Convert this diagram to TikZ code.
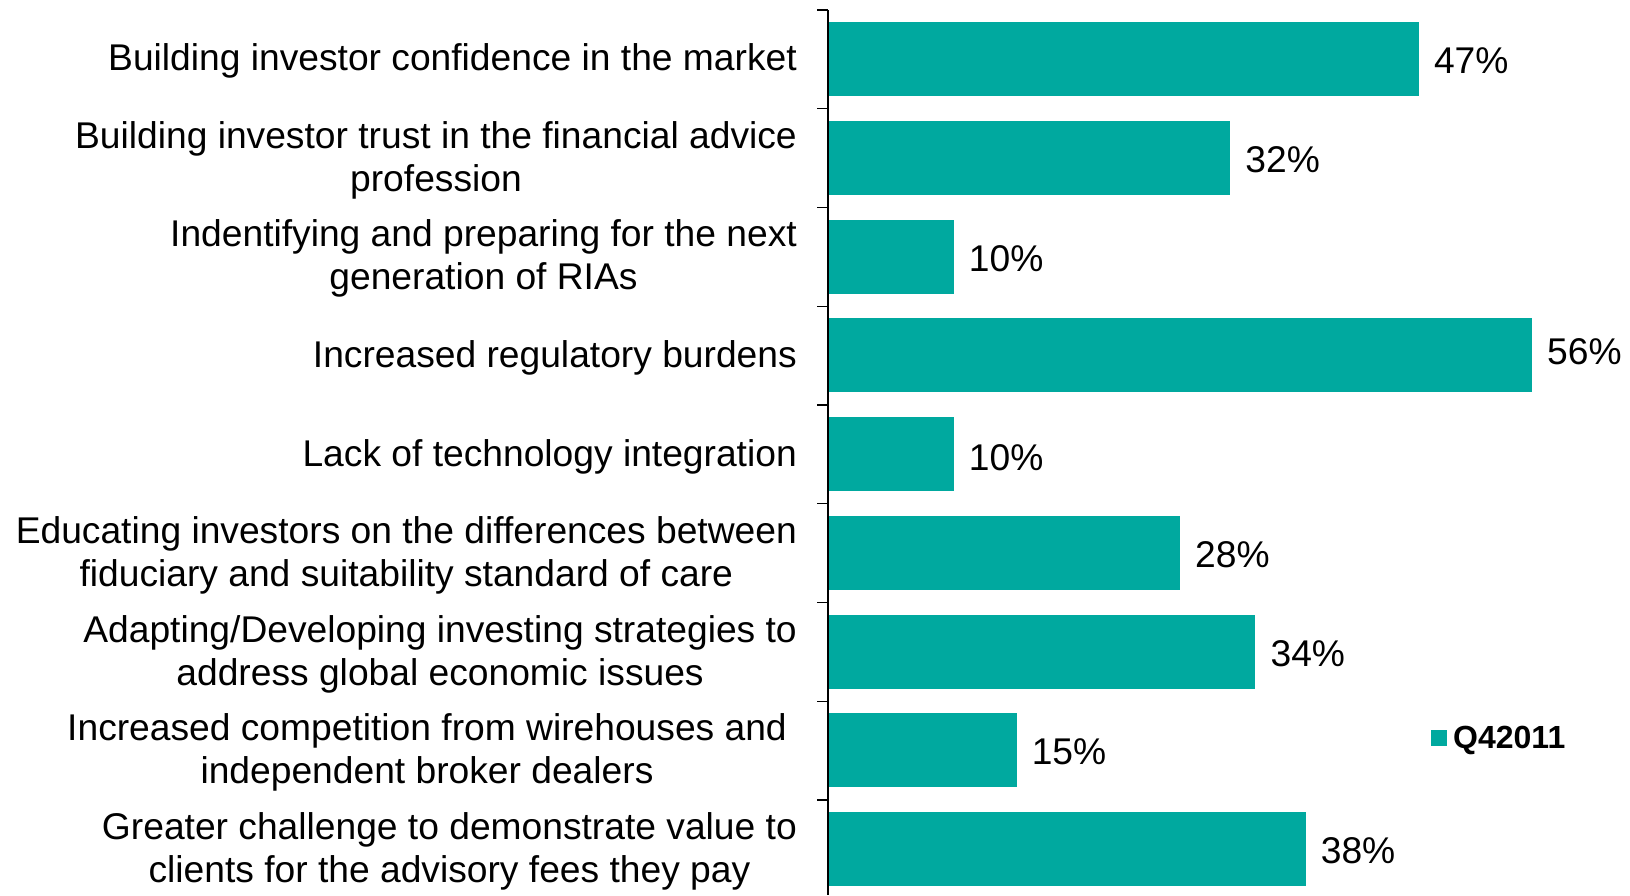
\documentclass[tikz,border=0pt]{standalone}
\usepackage{fontspec}
\setmainfont{Liberation Sans}
\definecolor{barteal}{RGB}{0,169,159}
\tikzset{
  catlabel/.style={anchor=east, inner sep=0pt, align=center, font=\fontsize{37.2}{43}\selectfont},
  pctlabel/.style={anchor=west, inner sep=0pt, font=\fontsize{37.2}{43}\selectfont},
  barbox/.style={fill=barteal, draw=none},
  axisline/.style={draw=black, line width=1.3pt},
}
\begin{document}
\begin{tikzpicture}[x=1pt,y=-1pt]
\useasboundingbox (0,0) rectangle (1630,895);
% bars and percent labels
\foreach \k/\v/\dy in {0/47/0, 1/32/0, 2/10/0, 3/56/-6, 4/10/2, 5/28/0, 6/34/0, 7/15/0, 8/38/0} {
  \pgfmathsetmacro{\ytop}{10+\k*98.75+12}
  \pgfmathsetmacro{\xend}{828+12.57*\v}
  \fill[barteal] (828,\ytop) rectangle (\xend,\ytop+74);
  \node[pctlabel] (p\k) at (\xend+15,\ytop+39+\dy) {\v\%};
}
% axis and ticks
\draw[axisline] (828,10) -- (828,895);
\foreach \k in {0,...,8} {
  \draw[axisline] (817,10+\k*98.75) -- (828,10+\k*98.75);
}
% category labels
\node[catlabel] (c0) at (797,61) {Building investor confidence in the market};
\node[catlabel] (c1) at (797,160) {Building investor trust in the financial advice\\profession};
\node[catlabel] (c2) at (797,258.5) {Indentifying and preparing for the next\\generation of RIAs};
\node[catlabel] (c3) at (797,357.5) {Increased regulatory burdens};
\node[catlabel] (c4) at (797,456.5) {Lack of technology integration};
\node[catlabel] (c5) at (797,555) {Educating investors on the differences between\\fiduciary and suitability standard of care};
\node[catlabel] (c6) at (797,654) {Adapting/Developing investing strategies to\\address global economic issues};
\node[catlabel] (c7) at (787,752) {Increased competition from wirehouses and\\independent broker dealers};
\node[catlabel] (c8) at (797,851.5) {Greater challenge to demonstrate value to\\clients for the advisory fees they pay};
% legend
\fill[barteal] (1431,730) rectangle (1447,746);
\node[anchor=west, inner sep=0pt, font=\fontsize{32}{38}\selectfont\bfseries] (leg) at (1453,740) {Q42011};
\end{tikzpicture}
\end{document}
